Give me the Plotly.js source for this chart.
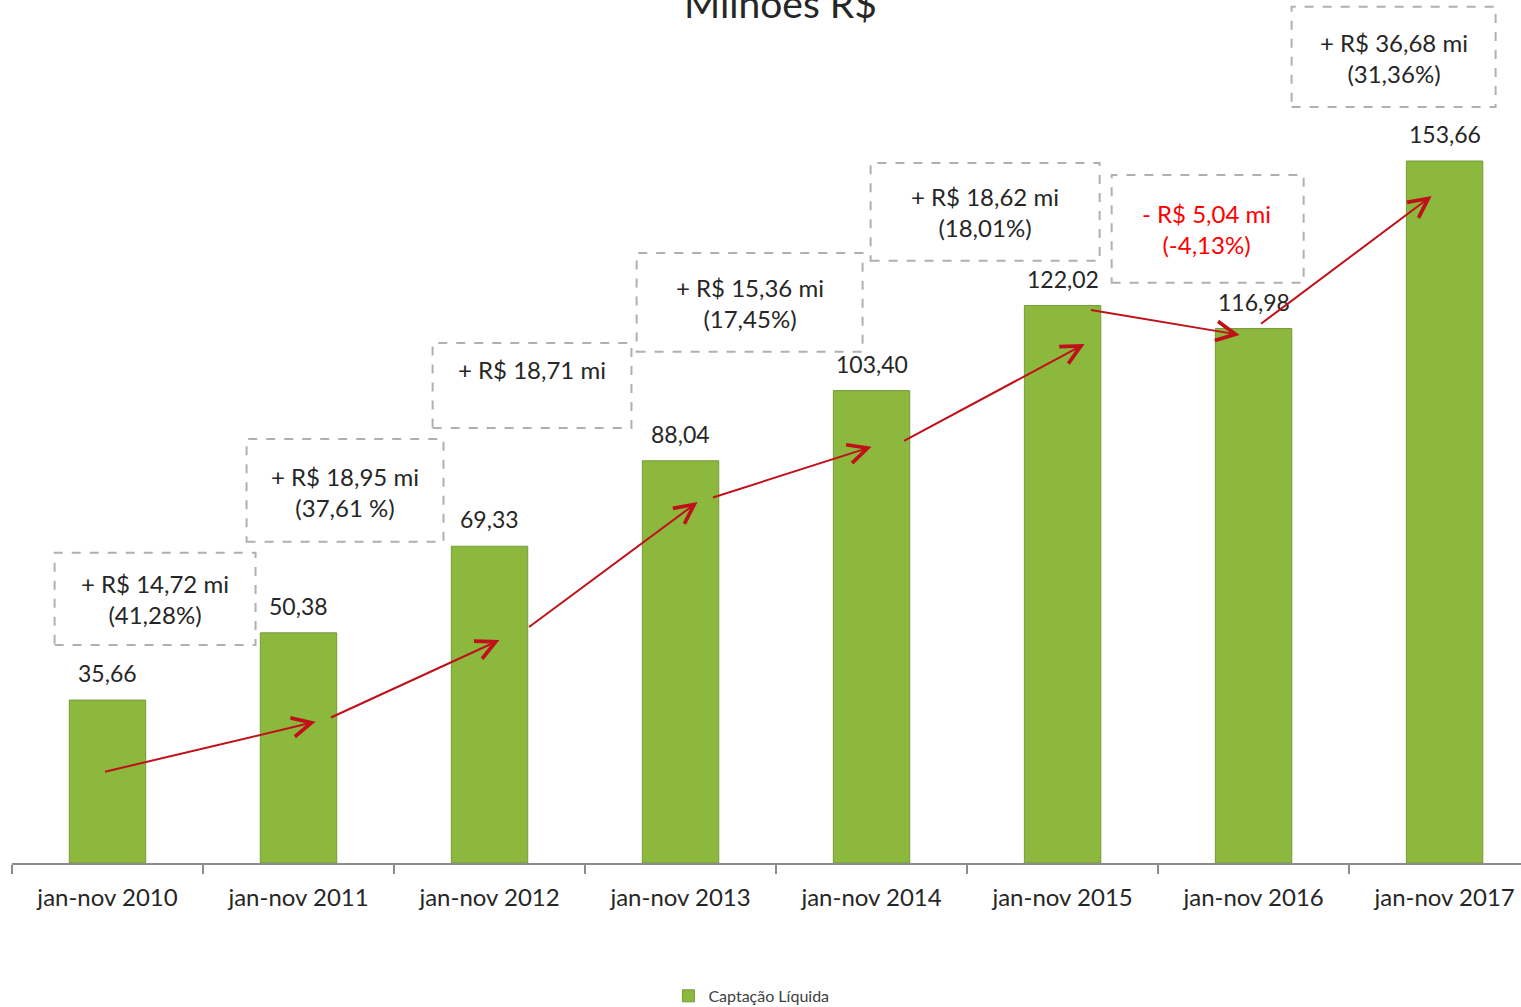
<!DOCTYPE html>
<html>
<head>
<meta charset="utf-8">
<script src="https://cdn.plot.ly/plotly-3.0.1.min.js"></script>
<style>
  html, body { margin: 0; padding: 0; background: #ffffff; overflow: hidden; }
  #chart { width: 1521px; height: 1007px; }
</style>
</head>
<body>
<div id="chart"></div>
<script>
// ---- data ----
const categories = ["jan-nov 2010", "jan-nov 2011", "jan-nov 2012", "jan-nov 2013",
                    "jan-nov 2014", "jan-nov 2015", "jan-nov 2016", "jan-nov 2017"];
const captacaoLiquida = [35.66, 50.38, 69.33, 88.04, 103.40, 122.02, 116.98, 153.66];
const seriesName = "Captação Líquida";
const titleText = "Milhões R$";
const changeLabels = [
  "+ R$ 14,72 mi<br>(41,28%)",
  "+ R$ 18,95 mi<br>(37,61 %)",
  "+ R$ 18,71 mi",
  "+ R$ 15,36 mi<br>(17,45%)",
  "+ R$ 18,62 mi<br>(18,01%)",
  "- R$ 5,04 mi<br>(-4,13%)",
  "+ R$ 36,68 mi<br>(31,36%)"
];
const changeIsNegative = [false, false, false, false, false, true, false];

// ---- layout helpers (positions / styles) ----
const FONT = "Lato, 'Open Sans', sans-serif";
const TXT = "#262626";
// dashed boxes: [x0, x1, y0, y1] in axis units (category index / value)
const boxPos = [
  [-0.277, 0.775, 47.7, 67.9],
  [0.728, 1.759, 70.3, 92.8],
  [1.702, 2.743, 95.2, 113.8],
  [2.770, 3.953, 111.9, 133.5],
  [3.995, 5.194, 131.8, 153.2],
  [5.257, 6.262, 127.0, 150.6],
  [6.199, 7.267, 165.5, 187.4]
];
// text centres inside boxes
const boxText = [
  [0.246, 57.8], [1.241, 81.3], [2.220, 108.0], [3.361, 122.6],
  [4.592, 142.6], [5.754, 138.8], [6.733, 176.3]
];
// arrows: [tailX, tailY, headX, headY]
const arrows = [
  [-0.021, 19.9, 1.089, 30.9],
  [1.162, 31.7, 2.052, 48.8],
  [2.199, 51.4, 3.089, 79.0],
  [3.162, 79.9, 4.000, 91.1],
  [4.162, 92.2, 5.115, 113.6],
  [5.141, 121.1, 5.927, 115.6],
  [6.031, 117.8, 6.932, 146.0]
];

const fmt = v => v.toFixed(2).replace('.', ',');

const trace = {
  type: 'bar',
  x: categories,
  y: captacaoLiquida,
  name: seriesName,
  width: 0.40,
  marker: { color: '#8cb83d', line: { color: '#76993a', width: 1 } },
  hoverinfo: 'x+y',
  showlegend: true
};

const annotations = [];
const shapes = [];

// value labels
captacaoLiquida.forEach((v, i) => {
  annotations.push({
    x: categories[i], y: v, xref: 'x', yref: 'y',
    text: fmt(v), showarrow: false, yanchor: 'bottom', yshift: 11,
    font: { family: FONT, size: 23, color: TXT }
  });
});

// change boxes
changeLabels.forEach((t, i) => {
  const b = boxPos[i];
  shapes.push({
    type: 'rect', xref: 'x', yref: 'y',
    x0: b[0], x1: b[1], y0: b[2], y1: b[3],
    line: { color: '#b0b0b0', width: 2, dash: 'dash' },
    fillcolor: 'rgba(255,255,255,0)', layer: 'above'
  });
  annotations.push({
    x: boxText[i][0], y: boxText[i][1], xref: 'x', yref: 'y',
    text: t, showarrow: false, align: 'center',
    font: { family: FONT, size: 24, color: changeIsNegative[i] ? '#ff0000' : TXT }
  });
});

// arrows
arrows.forEach(a => {
  annotations.push({
    x: a[2], y: a[3], ax: a[0], ay: a[1],
    xref: 'x', yref: 'y', axref: 'x', ayref: 'y',
    text: '', showarrow: true, arrowhead: 5, arrowsize: 1.9, arrowwidth: 2,
    arrowcolor: '#c0101a', standoff: 0, startstandoff: 0
  });
});

// title (cut at top like the reference)
annotations.push({
  x: 0.5, y: 1, xref: 'paper', yref: 'paper', xanchor: 'center', yanchor: 'bottom',
  yshift: -28, xshift: 14,
  text: titleText, showarrow: false,
  font: { family: FONT, size: 39, color: TXT }
});

const layout = {
  width: 1521, height: 1007,
  margin: { l: 12, r: 0, t: 0, b: 144 },
  paper_bgcolor: '#ffffff', plot_bgcolor: '#ffffff',
  showlegend: true,
  legend: {
    orientation: 'h', xref: 'paper', yref: 'container',
    x: 0.49, xanchor: 'center', y: 0.011, yanchor: 'middle',
    font: { family: FONT, size: 16, color: '#404040' },
    itemwidth: 30
  },
  xaxis: {
    type: 'category',
    range: [-0.5, 7.40],
    tickson: 'boundaries',
    ticks: 'outside', ticklen: 9, tickcolor: '#8c8c8c', tickwidth: 1.5,
    showline: true, linecolor: '#8c8c8c', linewidth: 2,
    showgrid: false, zeroline: false,
    tickfont: { family: FONT, size: 24, color: TXT },
    ticklabelstandoff: 12
  },
  yaxis: {
    range: [0, 188.9],
    visible: false, showgrid: false, zeroline: false
  },
  shapes: shapes,
  annotations: annotations
};

Plotly.newPlot('chart', [trace], layout, { displayModeBar: false, staticPlot: true });
</script>
</body>
</html>
